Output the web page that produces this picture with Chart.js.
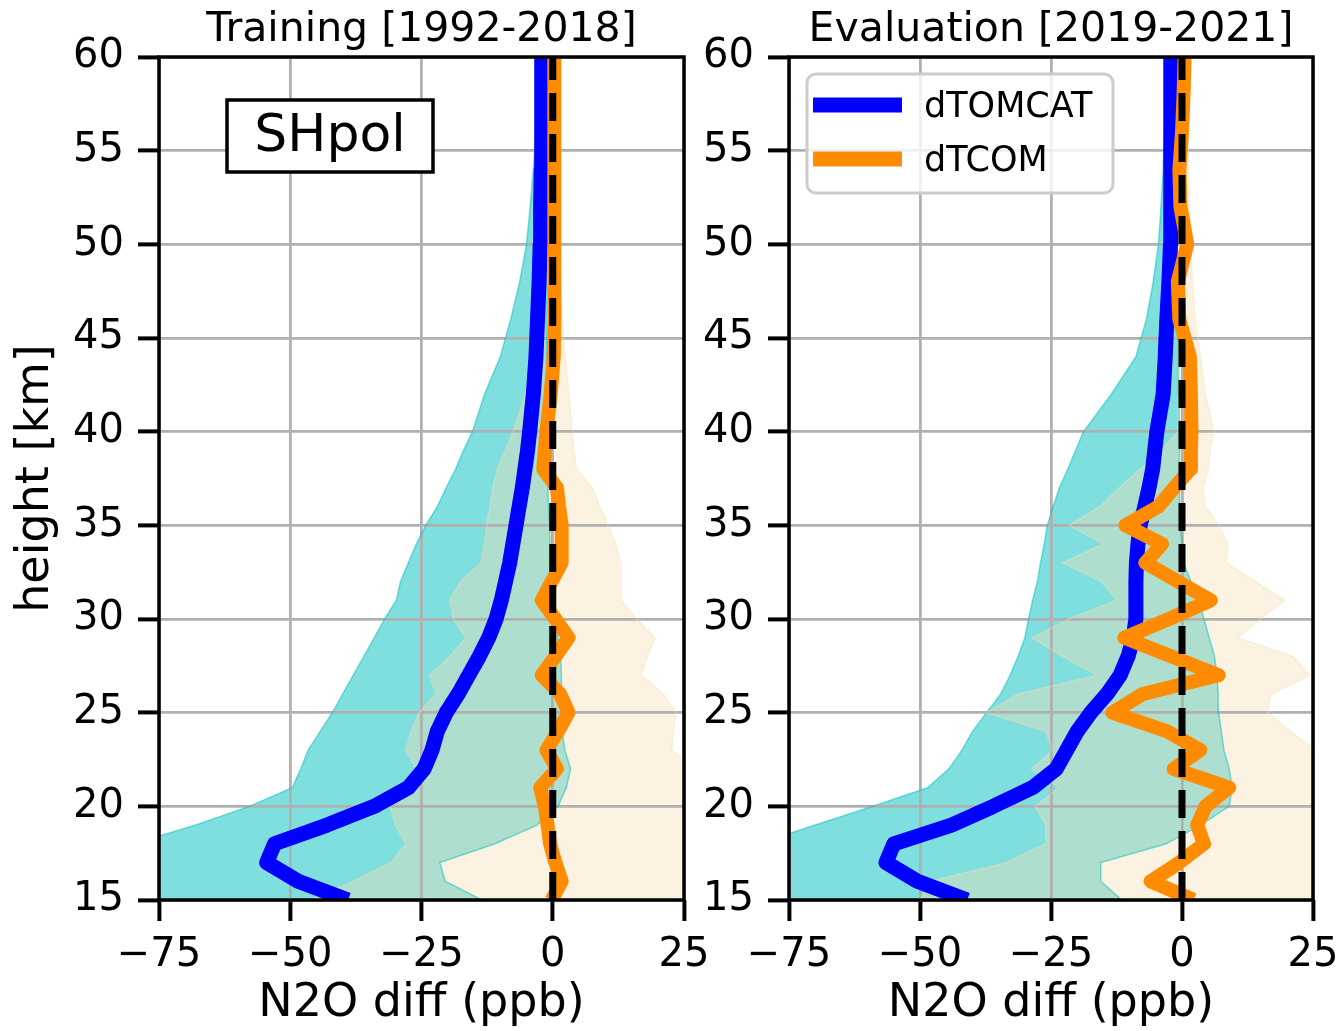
<!DOCTYPE html>
<html>
<head>
<meta charset="utf-8">
<script src="https://cdn.jsdelivr.net/npm/chart.js@4.4.0/dist/chart.umd.min.js"></script>
<style>
  html, body { margin: 0; padding: 0; background: #fff; }
  #wrap { position: relative; width: 1342px; height: 1031px; overflow: hidden; }
  canvas { position: absolute; top: 0; }
  #left { left: 0; }
  #right { left: 690px; }
</style>
</head>
<body>
<div id="wrap">
  <canvas id="left" width="730" height="1031"></canvas>
  <canvas id="right" width="660" height="1031"></canvas>
</div>
<script>
const FONT = '"DejaVu Sans", "Liberation Sans", sans-serif';

// heights (km) shared by every profile
const heights = [15,16,17,18,19,20,21,22,23,24,25,26,27,28,29,30,31,32,33,34,35,36,37,38,39,40,
                 42,44,46,48,50,52,54,56,58,60];

const xTicks = [-75, -50, -25, 0, 25];
const yTicks = [15, 20, 25, 30, 35, 40, 45, 50, 55, 60];

// Training [1992-2018]
const trainTomcat = [-39,-48.5,-54.5,-53,-43,-34,-27.5,-24.5,-23,-22,-20.3,-18,-16,-14,-12.2,-10.8,-9.8,-9,-8.2,-7.6,-7,-6.4,-5.8,-5.3,-4.8,-4.4,
                     -3.7,-3.2,-2.9,-2.6,-2.4,-2.3,-2.2,-2.1,-2.1,-2.1];
const trainTcom = [-0.2,1.7,0.5,-0.5,-1,-1.5,-2.4,0.8,-1.2,1,3,1.4,-2.1,0.5,3,0.5,-2.1,-0.2,1.7,1.7,1.7,1.2,0.8,-1.8,-1.5,-1.2,
                   -0.4,0.2,0.3,0.3,0.3,0.3,0.3,0.3,0.3,0.3];
const trainTomcatLo = [-110,-100,-90,-80,-68,-57.8,-49.6,-48,-46.6,-44.3,-42,-40,-38,-36,-34,-32,-29.8,-29,-27.5,-26,-24.2,-22,-20.3,-18.5,-17,-15.3,
                       -13,-10,-8,-6.3,-5,-4.3,-3.7,-3.2,-2.9,-2.7];
const trainTomcatHi = [-13.5,-20.5,-21.5,-11,-3,1,2.6,3.4,2.3,1.8,1.7,1.7,1.6,1.5,1,0.5,0,-0.2,-0.3,-0.5,-0.6,-0.8,-0.9,-1,-1,-1,
                       -1.2,-1.2,-1.2,-1.2,-1.2,-1.2,-1.2,-1.2,-1.2,-1.2];
const trainTcomLo = [-46,-38,-30.8,-28,-30,-31,-27.5,-26,-28,-27,-25.5,-22.2,-23.5,-19.6,-16.6,-18.9,-19.6,-17.6,-13.6,-13,-12.6,-12,-11.4,-10.6,-9,-7.6,
                     -5.2,-4,-3,-2.4,-2,-1.8,-1.6,-1.5,-1.4,-1.3];
const trainTcomHi = [32,32,32,32,32,32,30,27,22.7,23,23.4,21.1,16.9,18,19.5,16,13,13,13,12,10.5,9,7.5,4.6,4,3.7,
                     3.1,2.4,1.8,1.5,1.3,1.2,1.1,1.1,1,1];

// Evaluation [2019-2021]
const evalTomcat = [-41,-50.5,-56.5,-55,-44,-36,-28.5,-24,-22,-20,-17.4,-14.3,-11.8,-10.3,-9.3,-8.8,-8.8,-8.8,-8.7,-8.4,-8,-7.1,-6.3,-5.6,-5.2,-4.8,
                    -3.6,-3.2,-2.9,-2.5,-2.2,-2.2,-2.2,-2.1,-2.1,-2.1];
const evalTcom = [2.2,-6,-0.5,4.2,2.9,4.5,9,-1.6,3.5,-2.8,-13.3,-7.5,7,-2,-11,-2.5,5.5,-0.8,-7,-3.8,-10.8,-4.5,-1.5,1.6,1.7,1.8,
                  1.7,1.5,-0.5,-0.8,1,-0.3,-0.5,0,0.3,0.5];
const evalTomcatLo = [-110,-100,-92,-81,-70,-59,-48.5,-44.5,-42,-40,-37.3,-34.6,-32.8,-31.3,-30,-29.3,-28.5,-27.6,-27,-26.3,-25.7,-24.6,-23.4,-21.8,-20.3,-18.8,
                      -13.5,-8.8,-6.8,-5.5,-4.5,-4,-3.6,-3.4,-3.3,-3.2];
const evalTomcatHi = [-11.5,-15.5,-15.5,-3,3.5,9,9.6,9,8,7.5,7,6.9,6.7,6.2,5.2,4.2,3.2,1.7,0.3,0,-0.3,-0.4,-0.4,-0.5,-0.5,-0.5,
                      -0.6,-0.7,-0.8,-0.9,-1,-1,-1,-1,-1,-1];
const evalTcomLo = [-50,-48,-33.4,-26,-26,-28,-23.4,-28.7,-24.7,-26,-37.3,-31.4,-16.2,-22.8,-28.7,-21.5,-12.5,-15.4,-22.8,-15.1,-21.5,-15.7,-12,-8,-4,-0.8,
                    -0.7,-0.6,-0.6,-0.6,-0.5,-0.5,-0.5,-0.5,-0.5,-0.5];
const evalTcomHi = [32,32,32,32,32,32,32,30,25.5,20.8,16.3,17,24.4,21.2,10.6,15,19.6,14,8.5,8.7,7,4.5,4,5,5.4,6.1,
                    4.5,3.5,2.5,2,1.7,1.5,1.3,1.2,1.1,1];

const zeroLine = [0, 0];
const zeroHeights = [15, 60];

const CYAN_FILL = 'rgba(0,191,191,0.5)';
const WHEAT_FILL = 'rgba(245,222,179,0.4)';

function pts(xs, ys) {
  return xs.map((v, i) => ({ x: v, y: (ys || heights)[i] }));
}

function fmt(v) {
  return v < 0 ? '\u2212' + Math.abs(v) : String(v);
}

// lower edge fills up to the next dataset ('+1'); a target index of 0 is skipped
// by the filler in 'beforeDraw' mode, so the fill always points forward
function makeDatasets(lo1, hi1, lo2, hi2, tomcat, tcom) {
  const common = { pointRadius: 0, tension: 0, clip: 0 };
  return [
    Object.assign({ data: pts(lo1), borderColor: CYAN_FILL, borderWidth: 1.5, fill: '+1', backgroundColor: CYAN_FILL, order: 10 }, common),
    Object.assign({ data: pts(hi1), borderColor: CYAN_FILL, borderWidth: 1.5, fill: false, order: 10 }, common),
    Object.assign({ data: pts(lo2), borderColor: WHEAT_FILL, borderWidth: 1.5, fill: '+1', backgroundColor: WHEAT_FILL, order: 8 }, common),
    Object.assign({ data: pts(hi2), borderColor: WHEAT_FILL, borderWidth: 1.5, fill: false, order: 8 }, common),
    Object.assign({ label: 'dTOMCAT', data: pts(tomcat), borderColor: '#0000ff', borderWidth: 15, borderJoinStyle: 'round', fill: false, order: 3 }, common),
    Object.assign({ label: 'dTCOM', data: pts(tcom), borderColor: '#ff8c00', borderWidth: 14, borderJoinStyle: 'round', fill: false, order: 2 }, common),
    Object.assign({ data: pts(zeroLine, zeroHeights), borderColor: '#000', borderWidth: 7, borderDash: [28, 13], fill: false, order: 1 }, common)
  ];
}

function gridOpts() {
  return { color: '#b0b0b0', lineWidth: 2.8, tickColor: '#000', tickWidth: 4, tickLength: 21 };
}

function xAxis() {
  return {
    type: 'linear', min: -75, max: 25,
    afterBuildTicks: s => { s.ticks = xTicks.map(v => ({ value: v })); },
    ticks: { autoSkip: false, maxRotation: 0, padding: 11, color: '#000',
             font: { family: FONT, size: 40 }, callback: v => fmt(v) },
    grid: gridOpts(),
    border: { display: false },
    title: { display: true, text: 'N2O diff (ppb)', color: '#000',
             font: { family: FONT, size: 46, lineHeight: 1 }, padding: { top: 0, bottom: 4 } },
    afterFit: s => { s.height = 131; }
  };
}

function yAxis(withTitle, width) {
  return {
    type: 'linear', min: 15, max: 60,
    afterBuildTicks: s => { s.ticks = yTicks.map(v => ({ value: v })); },
    ticks: { autoSkip: false, padding: 14, color: '#000', font: { family: FONT, size: 40 } },
    grid: gridOpts(),
    border: { display: false },
    title: { display: withTitle, text: 'height [km]', color: '#000',
             font: { family: FONT, size: 46, lineHeight: 1 }, padding: { top: 13, bottom: 0 } },
    afterFit: s => { s.width = width; }
  };
}

const framePlugin = {
  id: 'frame',
  afterDatasetsDraw(chart) {
    const { ctx, chartArea: a } = chart;
    ctx.save();
    ctx.strokeStyle = '#000';
    ctx.lineWidth = 3.5;
    ctx.strokeRect(a.left, a.top, a.right - a.left, a.bottom - a.top);
    ctx.restore();
  }
};

const decorPlugin = {
  id: 'decor',
  afterDraw(chart, args, opts) {
    const { ctx, chartArea: a } = chart;
    ctx.save();
    ctx.fillStyle = '#000';
    ctx.textAlign = 'center';
    ctx.textBaseline = 'middle';
    ctx.font = '41px ' + FONT;
    ctx.fillText(opts.title, (a.left + a.right) / 2, 30);

    if (opts.region) {
      // region label box, upper left of the panel
      const bx = a.left + 68, by = a.top + 43, bw = 206, bh = 72;
      ctx.fillStyle = '#fff';
      ctx.fillRect(bx, by, bw, bh);
      ctx.strokeStyle = '#000';
      ctx.lineWidth = 3.5;
      ctx.strokeRect(bx, by, bw, bh);
      ctx.fillStyle = '#000';
      ctx.font = '52px ' + FONT;
      ctx.fillText(opts.region, bx + bw / 2, by + bh / 2 + 1);
    }

    if (opts.legend) {
      const lx = a.left + 18, ly = a.top + 17, lw = 306, lh = 119;
      ctx.beginPath();
      if (ctx.roundRect) ctx.roundRect(lx, ly, lw, lh, 9); else ctx.rect(lx, ly, lw, lh);
      ctx.fillStyle = 'rgba(255,255,255,0.8)';
      ctx.fill();
      ctx.strokeStyle = '#cccccc';
      ctx.lineWidth = 3;
      ctx.stroke();
      ctx.font = '35px ' + FONT;
      ctx.textAlign = 'left';
      const sets = chart.data.datasets.filter(d => d.label);
      sets.forEach((d, i) => {
        const y = ly + 31 + i * 54;
        ctx.strokeStyle = d.borderColor;
        ctx.lineWidth = 15;
        ctx.beginPath();
        ctx.moveTo(lx + 6, y);
        ctx.lineTo(lx + 95, y);
        ctx.stroke();
        ctx.fillStyle = '#000';
        ctx.fillText(d.label, lx + 117, y + 3);
      });
    }
    ctx.restore();
  }
};

function makePanel(id, datasets, yWithTitle, yWidth, rightPad, decor) {
  return new Chart(document.getElementById(id), {
    type: 'line',
    data: { datasets },
    options: {
      indexAxis: 'y',
      responsive: false,
      animation: false,
      events: [],
      layout: { padding: { top: 57, right: rightPad, bottom: 0, left: 0 } },
      scales: { x: xAxis(), y: yAxis(yWithTitle, yWidth) },
      plugins: {
        legend: { display: false },
        tooltip: { enabled: false },
        filler: { drawTime: 'beforeDraw' },
        decor
      }
    },
    plugins: [framePlugin, decorPlugin]
  });
}

makePanel('left',
  makeDatasets(trainTomcatLo, trainTomcatHi, trainTcomLo, trainTcomHi, trainTomcat, trainTcom),
  true, 159, 46, { title: 'Training [1992-2018]', region: 'SHpol' });

// right canvas runs 8px past the page edge so the last tick label keeps its room
makePanel('right',
  makeDatasets(evalTomcatLo, evalTomcatHi, evalTcomLo, evalTcomHi, evalTomcat, evalTcom),
  false, 99, 37, { title: 'Evaluation [2019-2021]', legend: true });
</script>
</body>
</html>
